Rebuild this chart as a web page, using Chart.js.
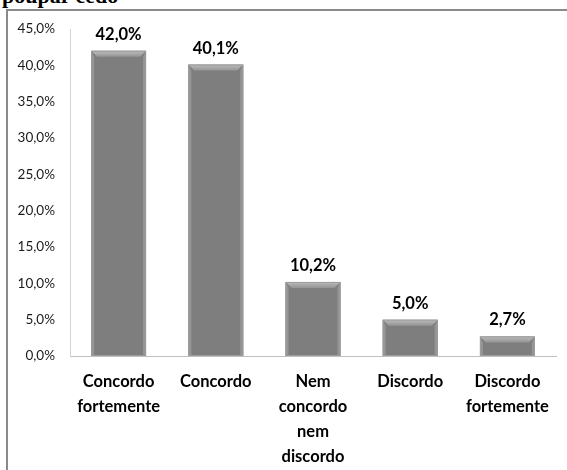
<!DOCTYPE html>
<html lang="pt">
<head>
<meta charset="UTF-8" />
<title>poupar cedo</title>
<script src="https://cdn.jsdelivr.net/npm/chart.js"></script>
<style>
  html, body { margin:0; padding:0; background:#fff; overflow:hidden; }
  body { width:567px; height:470px; position:relative; }
  .title { position:absolute; left:2px; top:-15px; font:bold 22px/22px "Liberation Serif", "DejaVu Serif", serif; color:#000; white-space:nowrap; }
  .frame { position:absolute; left:6px; top:9px; width:600px; height:500px; border-left:2px solid #8a8a8a; border-top:2px solid #8a8a8a; }
  canvas { position:absolute; left:0; top:0; }
</style>
</head>
<body>
<div class="title">poupar cedo</div>
<div class="frame"></div>
<canvas id="chart" width="567" height="470"></canvas>

<script>
const categories = [
  ['Concordo', 'fortemente'],
  'Concordo',
  ['Nem', 'concordo', 'nem', 'discordo'],
  'Discordo',
  ['Discordo', 'fortemente']
];
const values = [42.0, 40.1, 10.2, 5.0, 2.7];
const yTicks = [0, 5, 10, 15, 20, 25, 30, 35, 40, 45];

const pct = v => v.toFixed(1).replace('.', ',') + '%';

// gray bevelled bars + value labels on top
const bevel = {
  id: 'bevel',
  afterDatasetsDraw(chart) {
    const ctx = chart.ctx;
    const meta = chart.getDatasetMeta(0);
    meta.data.forEach((bar, i) => {
      const { x, y, base, width } = bar.getProps(['x', 'y', 'base', 'width'], true);
      const l = x - width / 2, r = x + width / 2, h = base - y;
      const e = Math.min(6, h / 3);
      ctx.save();
      // top band
      let g = ctx.createLinearGradient(0, y, 0, y + e);
      g.addColorStop(0, '#bdbdbd');
      g.addColorStop(1, '#949494');
      ctx.fillStyle = g;
      ctx.beginPath();
      ctx.moveTo(l, y); ctx.lineTo(r, y); ctx.lineTo(r - e, y + e); ctx.lineTo(l + e, y + e); ctx.closePath();
      ctx.fill();
      // side strips
      ctx.fillStyle = '#959595';
      ctx.beginPath();
      ctx.moveTo(l, y); ctx.lineTo(l + 3, y + e); ctx.lineTo(l + 3, base); ctx.lineTo(l, base); ctx.closePath();
      ctx.fill();
      ctx.beginPath();
      ctx.moveTo(r, y); ctx.lineTo(r - 3, y + e); ctx.lineTo(r - 3, base); ctx.lineTo(r, base); ctx.closePath();
      ctx.fill();
      ctx.strokeStyle = '#9c9c9c';
      ctx.lineWidth = 1;
      ctx.strokeRect(l + 0.5, y + 0.5, width - 1, h - 1);
      // value label
      ctx.fillStyle = '#000';
      ctx.font = 'bold 16.5px Lato, sans-serif';
      ctx.textAlign = 'center';
      ctx.textBaseline = 'alphabetic';
      ctx.fillText(pct(values[i]), x, y - 11);
      ctx.restore();
    });
  }
};

new Chart(document.getElementById('chart'), {
  type: 'bar',
  data: {
    labels: categories,
    datasets: [{
      data: values,
      backgroundColor: '#7e7e7e',
      borderWidth: 0,
      categoryPercentage: 1,
      barPercentage: 0.565
    }]
  },
  options: {
    responsive: false,
    animation: false,
    events: [],
    layout: { padding: { left: 0, right: 11, top: 29, bottom: 0 } },
    plugins: { legend: { display: false }, tooltip: { enabled: false } },
    scales: {
      x: {
        grid: { display: false, drawTicks: false },
        border: { display: true, color: '#c0c0c0', width: 1 },
        ticks: {
          padding: 13,
          color: '#000',
          maxRotation: 0,
          autoSkip: false,
          font: { family: 'Lato', size: 16.5, weight: 'bold', lineHeight: 1.515 }
        },
        afterFit(s) { s.height = 114; }
      },
      y: {
        min: 0,
        max: 45,
        afterBuildTicks(s) { s.ticks = yTicks.map(v => ({ value: v })); },
        grid: { display: false, drawTicks: false },
        border: { display: true, color: '#d4d4d4', width: 1 },
        ticks: {
          padding: 15,
          color: '#1a1a1a',
          font: { family: 'Lato', size: 13.5 },
          callback: v => pct(v)
        },
        afterFit(s) { s.width = 70; }
      }
    }
  },
  plugins: [bevel]
});
</script>
</body>
</html>
